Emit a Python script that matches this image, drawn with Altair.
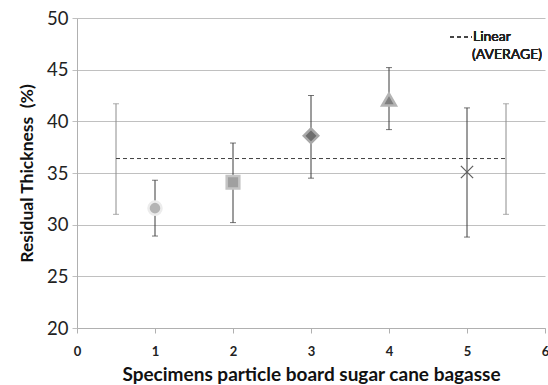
import altair as alt
import pandas as pd

# Data
specimen = [1, 2, 3, 4, 5]
residual = [31.6, 34.1, 38.6, 42.1, 35.1]
err_low = [28.9, 30.2, 34.5, 39.2, 28.8]
err_high = [34.3, 37.9, 42.5, 45.2, 41.3]
shape_names = ["circle", "square", "diamond", "triangle", "x"]

avg_x = [0.5, 5.5]
avg_y = [36.4, 36.4]
avg_low = [31.0, 31.0]
avg_high = [41.7, 41.7]

FONT = "Lato"

df = pd.DataFrame({"x": specimen, "y": residual, "lo": err_low, "hi": err_high, "s": shape_names})
avg = pd.DataFrame({"x": avg_x, "y": avg_y, "lo": avg_low, "hi": avg_high})

xs = alt.Scale(domain=[0, 6], nice=False, zero=False)
ys = alt.Scale(domain=[20, 50], nice=False, zero=False)

X = alt.X("x:Q", scale=xs, axis=alt.Axis(
    values=[0, 1, 2, 3, 4, 5, 6], format="d", grid=False, title="Specimens particle board sugar cane bagasse",
    domainColor="#b0b0b0", tickColor="#b0b0b0", tickSize=5, labelFontSize=13, labelFontWeight="bold",
    labelColor="#222222", labelPadding=12, labelFont=FONT, titleFont=FONT, titleFontSize=19,
    titleFontWeight="bold", titleColor="#111111", titlePadding=7, labelBound=False, labelOverlap=False,
    labelFlush=False))
Y = alt.Y("y:Q", scale=ys, axis=alt.Axis(
    values=[20, 25, 30, 35, 40, 45, 50], format="d", title="Residual Thickness\u00a0\u00a0(%)",
    domainColor="#b0b0b0", tickColor="#c0c0c0", tickSize=5, gridColor="#c0c0c0",
    labelFontSize=18.5, labelColor="#222222", labelPadding=4, labelFont=FONT, titleFont=FONT,
    titleFontSize=17.5, titleFontWeight="bold", titleColor="#111111", titlePadding=10))

base = alt.Chart(df)
grid = base.mark_point(opacity=0).encode(x=X, y=Y)

bars = base.mark_rule(color="#3a3a3a", strokeWidth=1).encode(x="x:Q", y="lo:Q", y2="hi:Q")
cap_lo = base.mark_tick(color="#3a3a3a", size=6, thickness=1, orient="horizontal").encode(x="x:Q", y="lo:Q")
cap_hi = base.mark_tick(color="#3a3a3a", size=6, thickness=1, orient="horizontal").encode(x="x:Q", y="hi:Q")

abase = alt.Chart(avg)
abars = abase.mark_rule(color="#8c8c8c", strokeWidth=1).encode(x="x:Q", y="lo:Q", y2="hi:Q")
acap_lo = abase.mark_tick(color="#8c8c8c", size=6, thickness=1, orient="horizontal").encode(x="x:Q", y="lo:Q")
acap_hi = abase.mark_tick(color="#8c8c8c", size=6, thickness=1, orient="horizontal").encode(x="x:Q", y="hi:Q")
aline = abase.mark_line(color="#404040", strokeWidth=1, strokeDash=[4, 3]).encode(x="x:Q", y="y:Q")

def pt(name, shape, fill, stroke, size, sw=1.5):
    return alt.Chart(df[df.s == name]).mark_point(
        shape=shape, filled=True, fill=fill, stroke=stroke, strokeWidth=sw, size=size, opacity=1
    ).encode(x="x:Q", y="y:Q")

p1 = pt("circle", "circle", "#b4b4b4", "#ececec", 170, 2.5)
p2 = pt("square", "square", "#a0a0a0", "#c4c4c4", 160, 2.5)
p3 = pt("diamond", "diamond", "#6e6e6e", "#a8a8a8", 210, 2.5)
p4 = pt("triangle", "triangle-up", "#808080", "#b4b4b4", 190, 2.5)
p5 = alt.Chart(df[df.s == "x"]).mark_point(
    shape="M-1,-1L1,1M-1,1L1,-1", filled=False, stroke="#606060", strokeWidth=1.3, size=150, opacity=1
).encode(x="x:Q", y="y:Q")

leg_line = alt.Chart(df).mark_rule(color="#404040", strokeWidth=1, strokeDash=[4, 3]).encode(
    x=alt.value(373), x2=alt.value(395), y=alt.value(19))
leg_t1 = alt.Chart(df).mark_text(text="Linear", align="left", baseline="middle", font=FONT,
                                 fontSize=14, fontWeight="normal", color="#222222").encode(
    x=alt.value(396), y=alt.value(19))
leg_t2 = alt.Chart(df).mark_text(text="(AVERAGE)", align="left", baseline="middle", font=FONT,
                                 fontSize=14, fontWeight="normal", color="#222222").encode(
    x=alt.value(395), y=alt.value(37))

chart = alt.layer(grid, abars, acap_lo, acap_hi, aline, bars, cap_lo, cap_hi, p1, p2, p3, p4, p5,
                  leg_line, leg_t1, leg_t2).properties(
    width=468, height=310,
    autosize=alt.AutoSizeParams(type="none"),
    padding={"left": 77, "top": 18, "right": 3, "bottom": 57},
    background="white",
).configure_view(stroke=None)

chart.save("out.html", embed_options={"renderer": "svg", "actions": False})
